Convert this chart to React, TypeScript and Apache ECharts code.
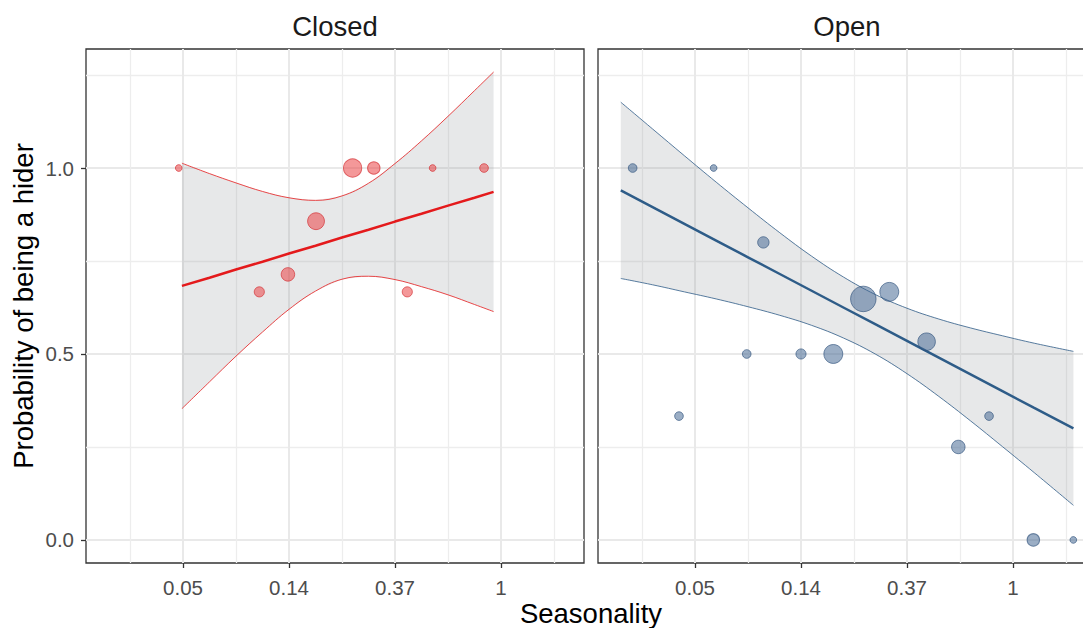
import React, { useEffect, useRef } from "react";
import * as echarts from "echarts";

// ---------- axes (x is ln(seasonality), labelled with seasonality) ----------
const panelNames = ["Closed", "Open"];
const xTickValues = [-3, -2, -1, 0];
const xTickLabels = ["0.05", "0.14", "0.37", "1"];
const xMinorValues = [-3.5, -2.5, -1.5, -0.5, 0.5];
const yTickValues = [0, 0.5, 1];
const yTickLabels = ["0.0", "0.5", "1.0"];
const yMinorValues = [0.25, 0.75, 1.25];
const xRange = [-3.915, 0.783];
const yRange = [-0.062, 1.32];

// ---------- Closed panel ----------
const closedLogSeason = [-3.04, -2.28, -2.01, -1.745, -1.4, -1.2, -0.884, -0.645, -0.16];
const closedProb = [1.0, 0.667, 0.714, 0.857, 1.0, 1.0, 0.667, 1.0, 1.0];
const closedN = [1, 3, 6, 10, 12, 5, 3, 1, 2];

const closedFitX = [-3.01, -2.75, -2.5, -2.25, -2.0, -1.75, -1.5, -1.25, -1.0, -0.75, -0.5, -0.25, -0.07];
const closedFit = [0.683, 0.705, 0.727, 0.748, 0.77, 0.791, 0.813, 0.834, 0.856, 0.877, 0.899, 0.92, 0.936];
const closedUpper = [1.013, 0.985, 0.96, 0.937, 0.92, 0.913, 0.925, 0.959, 1.012, 1.073, 1.139, 1.208, 1.258];
const closedLower = [0.353, 0.425, 0.494, 0.559, 0.62, 0.669, 0.701, 0.709, 0.7, 0.681, 0.659, 0.633, 0.614];

// ---------- Open panel ----------
const openLogSeason = [-3.588, -3.151, -2.824, -2.512, -2.355, -2.0, -1.695, -1.412, -1.167, -0.815, -0.516, -0.226, 0.192, 0.569];
const openProb = [1.0, 0.333, 1.0, 0.5, 0.8, 0.5, 0.5, 0.648, 0.667, 0.533, 0.25, 0.333, 0.0, 0.0];
const openN = [2, 2, 1, 2, 4, 3, 13, 25, 13, 11, 6, 2, 5, 1];

const openFitX = [-3.7, -3.4, -3.1, -2.8, -2.5, -2.2, -1.9, -1.6, -1.3, -1.0, -0.7, -0.4, -0.1, 0.2, 0.57];
const openFit = [0.94, 0.895, 0.85, 0.805, 0.76, 0.715, 0.67, 0.625, 0.58, 0.535, 0.49, 0.445, 0.4, 0.355, 0.3];
const openUpper = [1.177, 1.105, 1.033, 0.962, 0.893, 0.826, 0.763, 0.707, 0.66, 0.623, 0.594, 0.57, 0.549, 0.529, 0.507];
const openLower = [0.703, 0.686, 0.667, 0.648, 0.627, 0.604, 0.577, 0.543, 0.5, 0.447, 0.386, 0.32, 0.251, 0.181, 0.093];

const FONT = "'Liberation Sans', Arial, Helvetica, sans-serif";

const panelStyle = [
  {
    line: "#E41A1C",
    pointFill: "rgba(234, 60, 62, 0.66)",
    pointBorder: "rgba(210, 40, 44, 0.8)",
  },
  {
    line: "#2E5C88",
    pointFill: "rgba(66, 102, 145, 0.66)",
    pointBorder: "rgba(46, 80, 122, 0.8)",
  },
];

const panels = [
  {
    x: closedLogSeason, y: closedProb, n: closedN,
    fx: closedFitX, fit: closedFit, up: closedUpper, lo: closedLower,
  },
  {
    x: openLogSeason, y: openProb, n: openN,
    fx: openFitX, fit: openFit, up: openUpper, lo: openLower,
  },
];

const gridLeft = [86, 598];
const gridTop = 49;
const gridW = 498;
const gridH = 514;

const TICK_FS = 20.5;
const TITLE_FS = 27.5;

function labelFor(values: number[], labels: string[]) {
  return (v: number) => {
    const i = values.findIndex((t) => Math.abs(t - v) < 1e-9);
    return i >= 0 ? labels[i] : "";
  };
}

function buildOption() {
  const grid: any[] = [];
  const xAxis: any[] = [];
  const yAxis: any[] = [];
  const series: any[] = [];

  panels.forEach((p, g) => {
    grid.push({
      left: gridLeft[g],
      top: gridTop,
      width: gridW,
      height: gridH,
      show: true,
      borderColor: "#333333",
      borderWidth: 1.3,
      backgroundColor: "rgba(0,0,0,0)",
      containLabel: false,
      outerBoundsMode: "none",
    });
    // major x
    xAxis.push({
      type: "value",
      gridIndex: g,
      min: xRange[0],
      max: xRange[1],
      position: "bottom",
      axisLine: { show: false, onZero: false },
      axisTick: {
        show: true,
        customValues: xTickValues,
        length: 5,
        lineStyle: { color: "#333333", width: 1.3 },
      },
      axisLabel: {
        show: true,
        customValues: xTickValues,
        formatter: labelFor(xTickValues, xTickLabels),
        margin: 14,
        color: "#4D4D4D",
        fontSize: TICK_FS,
        fontFamily: FONT,
      },
      splitLine: { show: true, lineStyle: { color: "#E9E9E9", width: 2 } },
    });
    // minor x
    xAxis.push({
      type: "value",
      gridIndex: g,
      min: xRange[0],
      max: xRange[1],
      position: "bottom",
      axisLine: { show: false, onZero: false },
      axisTick: { show: false, customValues: xMinorValues },
      axisLabel: { show: false, customValues: xMinorValues },
      splitLine: { show: true, lineStyle: { color: "#EDEDED", width: 1.3 } },
    });
    // major y
    yAxis.push({
      type: "value",
      gridIndex: g,
      min: yRange[0],
      max: yRange[1],
      position: "left",
      axisLine: { show: false, onZero: false },
      axisTick: {
        show: g === 0,
        customValues: yTickValues,
        length: 5,
        lineStyle: { color: "#333333", width: 1.3 },
      },
      axisLabel: {
        show: g === 0,
        customValues: yTickValues,
        formatter: labelFor(yTickValues, yTickLabels),
        margin: 12,
        color: "#4D4D4D",
        fontSize: TICK_FS,
        fontFamily: FONT,
      },
      splitLine: { show: true, lineStyle: { color: "#E9E9E9", width: 2 } },
    });
    // minor y
    yAxis.push({
      type: "value",
      gridIndex: g,
      min: yRange[0],
      max: yRange[1],
      position: "left",
      axisLine: { show: false, onZero: false },
      axisTick: { show: false, customValues: yMinorValues },
      axisLabel: { show: false, customValues: yMinorValues },
      splitLine: { show: true, lineStyle: { color: "#EDEDED", width: 1.3 } },
    });

    const xi = 2 * g;
    const yi = 2 * g;
    const st = panelStyle[g];

    // confidence band as one polygon through the library's coordinate system
    series.push({
      type: "custom",
      xAxisIndex: xi,
      yAxisIndex: yi,
      silent: true,
      clip: true,
      encode: { x: 0, y: [1, 2] },
      data: p.fx.map((x, i) => [x, p.lo[i], p.up[i]]),
      renderItem: (params: any, api: any) => {
        if (params.dataIndex !== 0) return null;
        const pts: number[][] = [];
        for (let i = 0; i < p.fx.length; i++) pts.push(api.coord([p.fx[i], p.up[i]]));
        for (let i = p.fx.length - 1; i >= 0; i--) pts.push(api.coord([p.fx[i], p.lo[i]]));
        return {
          type: "polygon",
          shape: { points: pts },
          style: { fill: "rgba(125, 132, 140, 0.19)", stroke: "none" },
        };
      },
      z: 1,
    });
    // band edges
    series.push({
      type: "line",
      xAxisIndex: xi,
      yAxisIndex: yi,
      smooth: 0.4,
      symbol: "none",
      silent: true,
      lineStyle: { color: st.line, width: 0.8 },
      data: p.fx.map((x, i) => [x, p.up[i]]),
      z: 2,
    });
    series.push({
      type: "line",
      xAxisIndex: xi,
      yAxisIndex: yi,
      smooth: 0.4,
      symbol: "none",
      silent: true,
      lineStyle: { color: st.line, width: 0.8 },
      data: p.fx.map((x, i) => [x, p.lo[i]]),
      z: 2,
    });
    // fitted line
    series.push({
      type: "line",
      xAxisIndex: xi,
      yAxisIndex: yi,
      smooth: false,
      symbol: "none",
      silent: true,
      lineStyle: { color: st.line, width: 2.5 },
      data: p.fx.map((x, i) => [x, p.fit[i]]),
      z: 3,
    });
    // points
    series.push({
      type: "scatter",
      xAxisIndex: xi,
      yAxisIndex: yi,
      symbol: "circle",
      symbolSize: (v: number[]) => 2 + 4.7 * Math.sqrt(v[2]),
      itemStyle: {
        color: st.pointFill,
        borderColor: st.pointBorder,
        borderWidth: 1,
      },
      data: p.x.map((x, i) => [x, p.y[i], p.n[i]]),
      z: 4,
    });
  });

  const graphic: any[] = [
    {
      type: "text",
      x: gridLeft[0] + gridW / 2,
      y: 26,
      style: { text: panelNames[0], fill: "#1A1A1A", font: `${TITLE_FS}px ${FONT}`, align: "center", verticalAlign: "middle" },
    },
    {
      type: "text",
      x: gridLeft[1] + gridW / 2,
      y: 26,
      style: { text: panelNames[1], fill: "#1A1A1A", font: `${TITLE_FS}px ${FONT}`, align: "center", verticalAlign: "middle" },
    },
    {
      type: "text",
      x: (gridLeft[0] + gridLeft[1] + gridW) / 2,
      y: 613,
      style: { text: "Seasonality", fill: "#000000", font: `${TITLE_FS}px ${FONT}`, align: "center", verticalAlign: "middle" },
    },
    {
      type: "text",
      x: 23,
      y: gridTop + gridH / 2,
      rotation: Math.PI / 2,
      style: { text: "Probability of being a hider", fill: "#000000", font: `${TITLE_FS}px ${FONT}`, align: "center", verticalAlign: "middle" },
    },
  ];

  return {
    animation: false,
    backgroundColor: "#FFFFFF",
    textStyle: { fontFamily: FONT },
    grid,
    xAxis,
    yAxis,
    series,
    graphic,
  };
}

export default function App() {
  const ref = useRef<HTMLDivElement>(null);
  useEffect(() => {
    if (!ref.current) return;
    const chart = echarts.init(ref.current, undefined, { renderer: "svg" });
    chart.setOption(buildOption() as any);
    return () => chart.dispose();
  }, []);
  return (
    <div
      ref={ref}
      style={{ position: "absolute", left: 0, top: 0, width: 1083, height: 628 }}
    />
  );
}
